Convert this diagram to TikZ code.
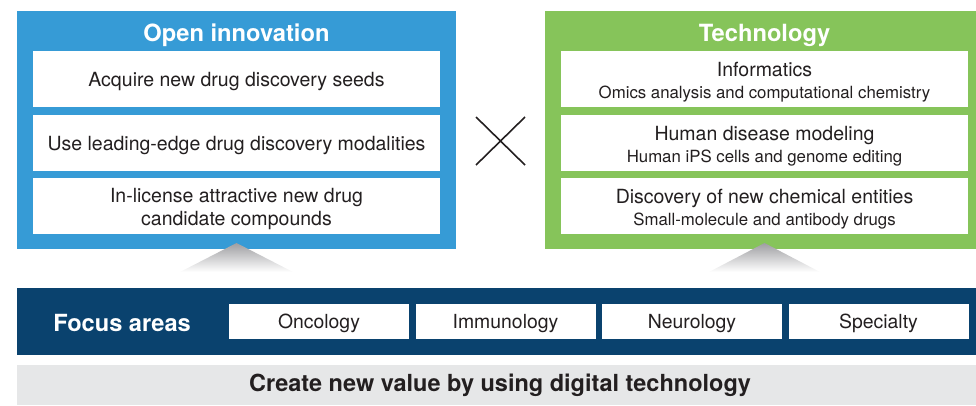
\documentclass[tikz,border=0pt]{standalone}
\usepackage{fontspec}
\setmainfont{TeX Gyre Heros}
\definecolor{oiblue}{RGB}{54,155,214}
\definecolor{techgreen}{RGB}{134,196,90}
\definecolor{focusnavy}{RGB}{10,66,110}
\definecolor{basegray}{RGB}{230,231,232}
\definecolor{ink}{RGB}{35,31,32}
\definecolor{peakgray}{RGB}{158,158,161}
\tikzset{
  panel/.style={inner sep=0pt, outer sep=0pt, minimum height=238pt},
  title/.style={text=white, font=\fontsize{23.7}{28}\selectfont\bfseries},
  item/.style={fill=white, inner sep=0pt, outer sep=0pt, minimum width=407pt, minimum height=56pt},
  itemtext/.style={text=ink, align=center, inner sep=0pt, font=\fontsize{19.5}{23}\selectfont},
  area/.style={fill=white, inner sep=0pt, outer sep=0pt, minimum width=180pt, minimum height=35pt},
  areatext/.style={text=ink, inner sep=0pt, font=\fontsize{19.4}{23}\selectfont},
  band/.style={inner sep=0pt, outer sep=0pt, minimum width=959pt}
}
\newcommand{\subline}[1]{{\fontsize{16.8}{22}\selectfont #1}}
\begin{document}
\begin{tikzpicture}[x=1pt,y=-1pt]
\useasboundingbox (0,0) rectangle (976,405);

% Open innovation panel
\node[panel, fill=oiblue, minimum width=439pt] (oi) at (236.5,130) {};
\node[title] (oititle) at (236.5,35) {Open innovation};
\node[item] (oi1) at (236.5,79) {};
\node[item] (oi2) at (236.5,143) {};
\node[item] (oi3) at (236.5,206) {};
\node[itemtext] at ([yshift=-3pt]oi1.center) {Acquire new drug discovery seeds};
\node[itemtext] at ([yshift=-3pt]oi2.center) {Use leading-edge drug discovery modalities};
\node[itemtext] at ([yshift=-3pt]oi3.center) {In-license attractive new drug\\candidate compounds};

% Technology panel
\node[panel, fill=techgreen, minimum width=431pt] (tech) at (760.5,130) {};
\node[title] (techtitle) at (764.5,35) {Technology};
\node[item] (t1) at (764.5,79) {};
\node[item] (t2) at (764.5,143) {};
\node[item] (t3) at (764.5,206) {};
\node[itemtext, font=\fontsize{19.5}{22}\selectfont] at ([yshift=-3pt]t1.center) {Informatics\\\subline{Omics analysis and computational chemistry}};
\node[itemtext, font=\fontsize{19.5}{22}\selectfont] at ([yshift=-3pt]t2.center) {Human disease modeling\\\subline{Human iPS cells and genome editing}};
\node[itemtext, font=\fontsize{19.5}{22}\selectfont] at ([yshift=-3pt]t3.center) {Discovery of new chemical entities\\\subline{Small-molecule and antibody drugs}};

% Multiplication sign between the panels
\coordinate (xa) at (476,117);
\coordinate (xb) at (525,165);
\coordinate (xc) at (476,165);
\coordinate (xd) at (525,117);
\draw[ink, line width=1.6pt] (xa) -- (xb) (xc) -- (xd);

% Fading peaks under the panels
\coordinate (lp) at (236.5,243);
\coordinate (ll) at (180,272);
\coordinate (lr) at (293,272);
\coordinate (rp) at (764.5,243);
\coordinate (rl) at (709,272);
\coordinate (rr) at (820,272);
\shade[top color=peakgray, bottom color=white] (lp) -- (lr) -- (ll) -- cycle;
\shade[top color=peakgray, bottom color=white] (rp) -- (rr) -- (rl) -- cycle;

% Focus areas band
\node[band, fill=focusnavy, minimum height=67pt] (focus) at (496.5,321.5) {};
\node[text=white, font=\fontsize{23.6}{28}\selectfont\bfseries] (focuslbl) at (122,323) {Focus areas};
\node[area] (onc) at (319,321.5) {};
\node[area] (imm) at (505.5,321.5) {};
\node[area] (neu) at (692,321.5) {};
\node[area] (spe) at (878.5,321.5) {};
\node[areatext] at ([yshift=-2pt]onc.center) {Oncology};
\node[areatext] at ([yshift=-2pt]imm.center) {Immunology};
\node[areatext] at ([yshift=-2pt]neu.center) {Neurology};
\node[areatext] at ([yshift=-2pt]spe.center) {Specialty};

% Digital technology base
\node[band, fill=basegray, minimum height=40pt] (base) at (496.5,385) {};
\node[text=ink, font=\fontsize{23.5}{28}\selectfont\bfseries] (baselbl) at (500,385) {Create new value by using digital technology};
\end{tikzpicture}
\end{document}
